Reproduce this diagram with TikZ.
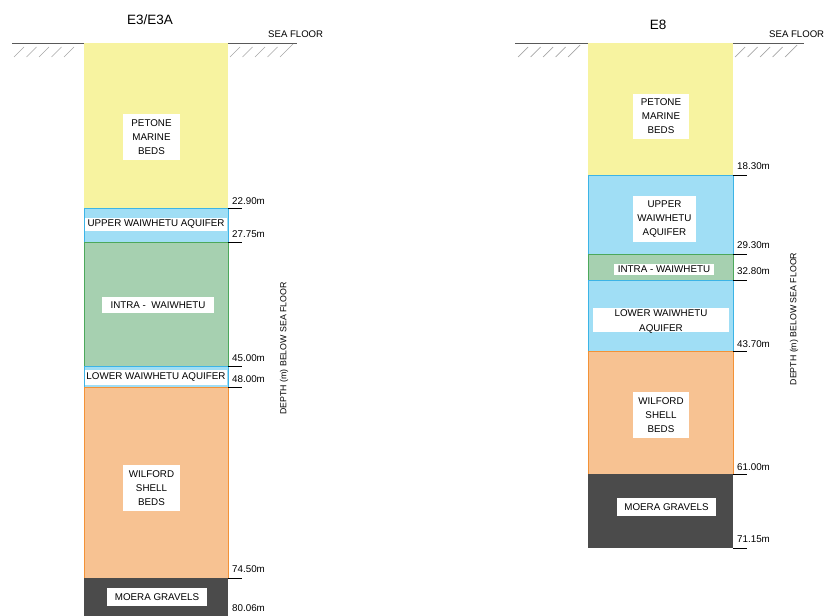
\documentclass[tikz,border=0pt]{standalone}
\usepackage{fontspec}
\setmainfont{Liberation Sans}
\usepackage{tikz}

\definecolor{petone}{HTML}{F7F3A0}
\definecolor{aquifer}{HTML}{A0DEF5}
\definecolor{aquiferline}{HTML}{3CB4E6}
\definecolor{intra}{HTML}{A6D0B0}
\definecolor{intraline}{HTML}{4CA85C}
\definecolor{wilford}{HTML}{F7C292}
\definecolor{wilfordline}{HTML}{F39237}
\definecolor{moera}{HTML}{4B4B4B}

\begin{document}
\begin{tikzpicture}[x=1pt,y=-1pt,
        seafloor/.style={draw=black!65,line width=0.9pt},
        hatch/.style={draw=black!35,line width=0.7pt},
        tick/.style={draw=black,line width=0.8pt},
        depth/.style={anchor=base west,inner sep=0pt,font=\fontsize{9.8}{11}\selectfont},
        stratum/.style={fill=white,align=center,inner sep=1pt,font=\fontsize{9.8}{14}\selectfont},
        title/.style={font=\fontsize{13.5}{15}\selectfont},
        axislabel/.style={rotate=90,font=\fontsize{8.8}{10}\selectfont}]

    \useasboundingbox (0,0) rectangle (826,615);

    % Borehole E3/E3A
    \node[title] (e3) at (150,20) {E3/E3A};
    \node[anchor=west,inner sep=0pt,font=\fontsize{9.6}{11}\selectfont] (sf1) at (268,34) {SEA FLOOR};
    \draw[seafloor] (12,43) -- (84,43);
    \draw[seafloor] (228,43) -- (297,43);
    \draw[hatch] (14,57) -- (24,47) (26.5,57) -- (36.5,47) (39,57) -- (49,47)
                 (51.5,57) -- (61.5,47) (64,57) -- (74,47);
    \draw[hatch] (230,57) -- (240,47) (242.5,57) -- (252.5,47) (255,57) -- (265,47)
                 (267.5,57) -- (277.5,47) (280,57) -- (293,44);

    \fill[petone] (84,43) rectangle (228,208);
    \filldraw[fill=aquifer,draw=aquiferline] (84,208) rectangle (228,242);
    \filldraw[fill=intra,draw=intraline] (84,242) rectangle (228,366);
    \filldraw[fill=aquifer,draw=aquiferline] (84,366) rectangle (228,387);
    \filldraw[fill=wilford,draw=wilfordline] (84,387) rectangle (228,578);
    \fill[moera] (84,578) rectangle (228,616);

    \node[stratum,minimum width=57,minimum height=46] (pmb1) at (151.5,137) {PETONE\\MARINE\\BEDS};
    \node[stratum,minimum width=142,minimum height=13] (uwa1) at (156,224) {UPPER WAIWHETU AQUIFER};
    \node[stratum,minimum width=112,minimum height=16] (iw1) at (158,305) {INTRA -\ \ WAIWHETU};
    \node[stratum,minimum width=142,minimum height=15] (lwa1) at (156,377) {LOWER WAIWHETU AQUIFER};
    \node[stratum,minimum width=57,minimum height=46] (wsb1) at (151.5,488) {WILFORD\\SHELL\\BEDS};
    \node[stratum,minimum width=100,minimum height=18] (mg1) at (157,597) {MOERA GRAVELS};

    % Depths E3/E3A
    \draw[tick] (228,208) -- (242,208);
    \draw[tick] (228,242) -- (242,242);
    \draw[tick] (228,366) -- (242,366);
    \draw[tick] (228,387) -- (242,387);
    \draw[tick] (228,578) -- (242,578);
    \node[depth] (d2290) at (232,204) {22.90m};
    \node[depth] (d2775) at (232,237) {27.75m};
    \node[depth] (d4500) at (232,361) {45.00m};
    \node[depth] (d4800) at (232,382) {48.00m};
    \node[depth] (d7450) at (232,572) {74.50m};
    \node[depth] (d8006) at (232,611) {80.06m};
    \node[axislabel] (ax1) at (284,348.5) {DEPTH (m) BELOW SEA FLOOR};

    % Borehole E8
    \node[title] (e8) at (658,25) {E8};
    \node[anchor=west,inner sep=0pt,font=\fontsize{9.6}{11}\selectfont] (sf2) at (769,34) {SEA FLOOR};
    \draw[seafloor] (515,43) -- (588,43);
    \draw[seafloor] (733,43) -- (804,43);
    \draw[hatch] (518,57) -- (528,47) (530.5,57) -- (540.5,47) (543,57) -- (553,47)
                 (555.5,57) -- (565.5,47) (568,57) -- (580,45);
    \draw[hatch] (735,57) -- (745,47) (747.5,57) -- (757.5,47) (760,57) -- (770,47)
                 (772.5,57) -- (782.5,47) (785,57) -- (797,45);

    \fill[petone] (588,43) rectangle (733,175);
    \filldraw[fill=aquifer,draw=aquiferline] (588,175) rectangle (733,254);
    \filldraw[fill=intra,draw=intraline] (588,254) rectangle (733,280);
    \filldraw[fill=aquifer,draw=aquiferline] (588,280) rectangle (733,351);
    \filldraw[fill=wilford,draw=wilfordline] (588,351) rectangle (733,474);
    \fill[moera] (588,474) rectangle (733,548);

    \node[stratum,minimum width=56,minimum height=45] (pmb2) at (661,116.5) {PETONE\\MARINE\\BEDS};
    \node[stratum,minimum width=63,minimum height=46] (uwa2) at (664.5,219) {UPPER\\WAIWHETU\\AQUIFER};
    \node[stratum,minimum width=100,minimum height=11,inner ysep=0pt] (iw2) at (664,269) {INTRA - WAIWHETU};
    \node[fill=white,minimum width=136,minimum height=24,inner sep=0pt] (lwb2) at (661,320) {};
    \node[align=center,font=\fontsize{9.8}{15}\selectfont] (lwa2) at (661,322) {LOWER WAIWHETU\\AQUIFER};
    \node[stratum,minimum width=56,minimum height=46] (wsb2) at (661,415) {WILFORD\\SHELL\\BEDS};
    \node[stratum,minimum width=99,minimum height=18] (mg2) at (666.5,507) {MOERA GRAVELS};

    % Depths E8
    \draw[tick] (733,175) -- (747,175);
    \draw[tick] (733,254) -- (747,254);
    \draw[tick] (733,280) -- (747,280);
    \draw[tick] (733,351) -- (747,351);
    \draw[tick] (733,474) -- (747,474);
    \draw[tick] (733,548) -- (747,548);
    \node[depth] (d1830) at (737,169) {18.30m};
    \node[depth] (d2930) at (737,248) {29.30m};
    \node[depth] (d3280) at (737,274) {32.80m};
    \node[depth] (d4370) at (737,347) {43.70m};
    \node[depth] (d6100) at (737,470) {61.00m};
    \node[depth] (d7115) at (737,542) {71.15m};
    \node[axislabel] (ax2) at (794,319) {DEPTH (m) BELOW SEA FLOOR};
\end{tikzpicture}
\end{document}
